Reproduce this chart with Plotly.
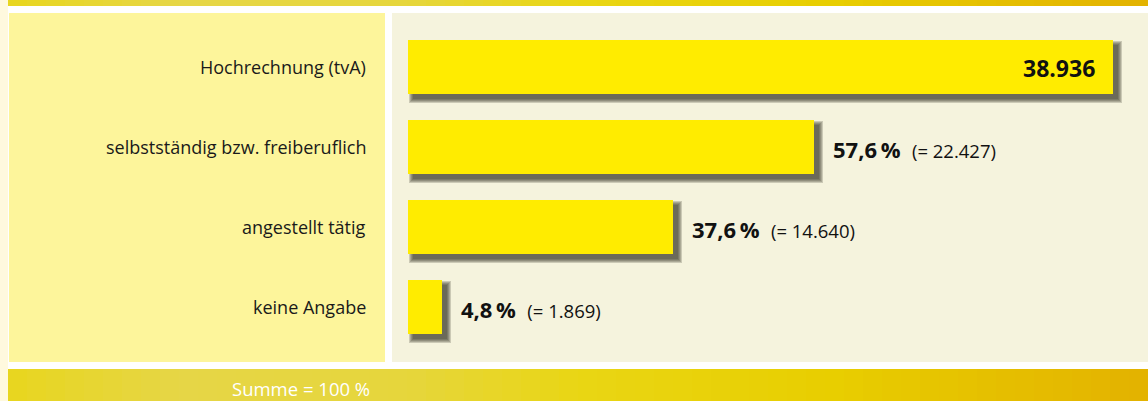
import plotly.graph_objects as go

# ---- data ----
categories = ["Hochrechnung (tvA)", "selbstständig bzw. freiberuflich", "angestellt tätig", "keine Angabe"]
percent = [100.0, 57.6, 37.6, 4.8]
counts = [38936, 22427, 14640, 1869]
footer_text = "Summe = 100 %"

W, H = 1148, 401
FONT = "Open Sans"

def de_int(n):
    return f"{n:,}".replace(",", ".")

def de_pct(p):
    return f"{p:.1f}".replace(".", ",") + "\u2009%"

# pixel geometry helpers (layout only)
X0_PX, PX_PER_UNIT = 408, 7.05
Y0_PX, ROW_PX = 67, 80
xr = [-X0_PX / PX_PER_UNIT, (W - X0_PX) / PX_PER_UNIT]
yr = [(H - Y0_PX) / ROW_PX, -Y0_PX / ROW_PX]
BAR_W = 54 / ROW_PX

def px_x(px):
    return px / W

def px_y(py):
    return 1 - py / H

fig = go.Figure()
shapes = []

def rect(x0, y0, x1, y1, color):
    shapes.append(dict(type="rect", xref="paper", yref="paper", layer="below",
                       x0=px_x(x0), x1=px_x(x1), y0=px_y(y1), y1=px_y(y0),
                       fillcolor=color, line=dict(width=0)))

def lerp(c1, c2, t):
    return tuple(int(round(a + (b - a) * t)) for a, b in zip(c1, c2))

def gradient(x0, y0, x1, y1, stops, n=60):
    step = (x1 - x0) / n
    for i in range(n):
        t = (i + 0.5) / n
        for j in range(len(stops) - 1):
            if stops[j][0] <= t <= stops[j + 1][0]:
                tt = (t - stops[j][0]) / (stops[j + 1][0] - stops[j][0])
                c = lerp(stops[j][1], stops[j + 1][1], tt)
                break
        rect(x0 + i * step, y0, x0 + (i + 1) * step + 0.6, y1, "rgb(%d,%d,%d)" % c)

# backgrounds
rect(0, 0, 8, H, "rgb(255,249,222)")
band_stops = [(0.0, (232, 214, 30)), (0.15, (230, 214, 70)), (0.35, (230, 214, 60)),
              (0.5, (233, 214, 20)), (0.72, (232, 206, 0)), (0.88, (229, 190, 0)), (1.0, (227, 178, 0))]
gradient(8, 0, W, 6, band_stops)
gradient(8, 369, W, H, band_stops)
rect(9, 13, 385, 362, "rgb(253,245,155)")
rect(392, 13, W, 362, "rgb(245,243,221)")

yvals = list(range(len(categories)))

# shadows (soft, layered)
sx, sy = 5 / PX_PER_UNIT, 5 / ROW_PX
for k in range(5):
    ex = k * 1.0 / PX_PER_UNIT
    ey = k * 1.0 / ROW_PX
    fig.add_trace(go.Bar(
        y=[v + sy for v in yvals], x=[p + 2 * ex for p in percent], base=[sx - ex] * len(percent),
        orientation="h", width=BAR_W + 2 * ey,
        marker=dict(color="rgba(45,45,35,0.21)", line=dict(width=0)),
        hoverinfo="skip", showlegend=False))

# main bars
fig.add_trace(go.Bar(
    y=yvals, x=percent, orientation="h", width=BAR_W,
    marker=dict(color="#ffec00", line=dict(width=0)),
    hoverinfo="skip", showlegend=False))

annotations = []
for i, (cat, p, c) in enumerate(zip(categories, percent, counts)):
    annotations.append(dict(xref="paper", yref="y", x=px_x(368), y=i, xanchor="right", yanchor="middle",
                            text=cat, showarrow=False, font=dict(family=FONT, size=18, color="#1a1a1a")))
    if i == 0:
        annotations.append(dict(xref="x", yref="y", x=p, y=i, xanchor="right", yanchor="middle",
                                xshift=-16, yshift=-1, text="<b>" + de_int(c) + "</b>", showarrow=False,
                                font=dict(family=FONT, size=23, color="#111")))
    else:
        annotations.append(dict(xref="x", yref="y", x=p, y=i, xanchor="left", yanchor="middle",
                                xshift=17, yshift=-2,
                                text="<b>" + de_pct(p) + "</b>  <span style='font-size:18.5px'>(= " + de_int(c) + ")</span>",
                                showarrow=False, font=dict(family=FONT, size=22, color="#111")))

annotations.append(dict(xref="paper", yref="paper", x=px_x(301), y=px_y(388), xanchor="center", yanchor="middle",
                        text=footer_text, showarrow=False, font=dict(family=FONT, size=18.5, color="#ffffff")))

fig.update_layout(
    width=W, height=H, margin=dict(l=0, r=0, t=0, b=0),
    paper_bgcolor="#ffffff", plot_bgcolor="rgba(0,0,0,0)",
    barmode="overlay", bargap=0,
    xaxis=dict(range=xr, domain=[0, 1], visible=False, fixedrange=True),
    yaxis=dict(range=yr, domain=[0, 1], visible=False, fixedrange=True),
    shapes=shapes, annotations=annotations, showlegend=False,
)

fig.write_html("out.html", config={"displayModeBar": False},
               post_script="document.body.style.margin='0';document.body.style.overflow='hidden';")
